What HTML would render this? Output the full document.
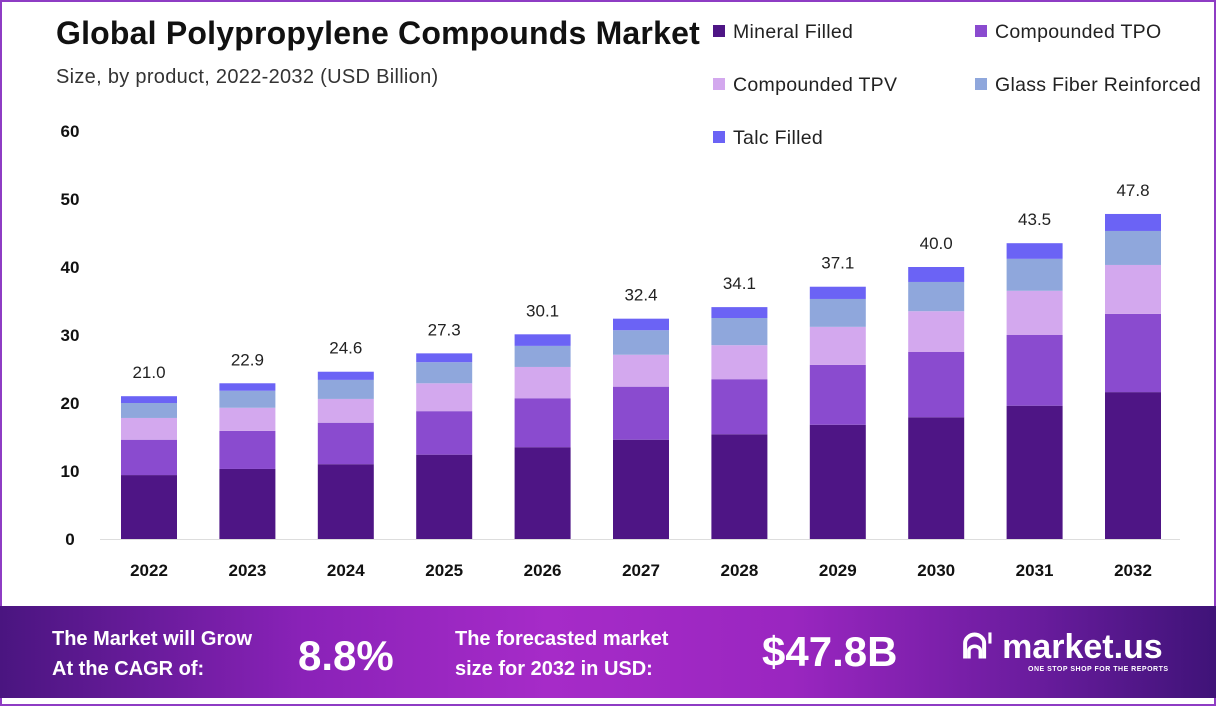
<!DOCTYPE html>
<html><head><meta charset="utf-8"><style>
body{margin:0;width:1216px;height:706px;overflow:hidden;background:#fff;font-family:"Liberation Sans",sans-serif;}
#frame{position:absolute;left:0;top:0;width:1212px;height:702px;border:2px solid #8e3cc4;}
.t{position:absolute;white-space:nowrap;}
#footer{position:absolute;left:0;top:606px;width:1216px;height:92px;background:linear-gradient(90deg,#4a1580 0%,#8a22b8 25%,#a62bc8 45%,#9a26c0 65%,#6a1c9e 85%,#3f1378 100%);}
.ft{color:#fff;font-weight:bold;position:absolute;}
</style></head><body>
<div id="frame"></div>
<div class="t" style="left:56px;top:15px;font-size:32px;font-weight:bold;color:#111;letter-spacing:0.2px;">Global Polypropylene Compounds Market</div>
<div class="t" style="left:56px;top:66px;font-size:20px;color:#333;letter-spacing:0.3px;">Size, by product, 2022-2032 (USD Billion)</div>
<svg id="chart" width="1216" height="706" style="position:absolute;left:0;top:0"></svg>
<div id="footer">
<div class="ft" style="left:52px;top:18px;font-size:20px;line-height:30px;">The Market will Grow<br>At the CAGR of:</div>
<div class="ft" style="left:298px;top:26px;font-size:42px;">8.8%</div>
<div class="ft" style="left:455px;top:18px;font-size:20px;line-height:30px;">The forecasted market<br>size for 2032 in USD:</div>
<div class="ft" style="left:762px;top:22px;font-size:42px;">$47.8B</div>
<div class="ft" style="left:962px;top:22px;font-size:34px;">ᕱᑊ market.us</div>
<div class="ft" style="left:1028px;top:60px;font-size:7px;letter-spacing:0.5px;">ONE STOP SHOP FOR THE REPORTS</div>
</div>
<script>
const years=['2022','2023','2024','2025','2026','2027','2028','2029','2030','2031','2032'];
const mineral=[9.4,10.3,11.0,12.4,13.5,14.6,15.4,16.8,17.9,19.6,21.6];
const tpo=[5.2,5.6,6.1,6.4,7.2,7.8,8.1,8.8,9.6,10.4,11.5];
const tpv=[3.2,3.4,3.5,4.1,4.6,4.7,5.0,5.6,6.0,6.5,7.2];
const glass=[2.2,2.5,2.8,3.1,3.1,3.6,4.0,4.1,4.3,4.7,5.0];
const talc=[1.0,1.1,1.2,1.3,1.7,1.7,1.6,1.8,2.2,2.3,2.5];
const totals=['21.0','22.9','24.6','27.3','30.1','32.4','34.1','37.1','40.0','43.5','47.8'];
const yTicks=[0,10,20,30,40,50,60];
const seriesNames=['Mineral Filled','Compounded TPO','Compounded TPV','Glass Fiber Reinforced','Talc Filled'];
const colors=['#4e1585','#8a4bcf','#d3a8ee','#8fa7dc','#6b63f5'];
const svg=document.getElementById('chart');const NS='http://www.w3.org/2000/svg';
const y=v=>539-v*6.8;const x=i=>149+i*98.4;const bw=56;
function mk(t,a){const e=document.createElementNS(NS,t);for(const k in a)e.setAttribute(k,a[k]);svg.appendChild(e);return e;}
const ax=mk('line',{x1:100,x2:1180,y1:539.5,y2:539.5,stroke:'#ddd','stroke-width':1});


yTicks.forEach(v=>{const t=mk('text',{x:70,y:y(v)+6,'text-anchor':'middle','font-size':17,'font-weight':'bold',fill:'#111','font-family':'Liberation Sans'});t.textContent=v;

});
const series=[mineral,tpo,tpv,glass,talc];const keys=['mineral','tpo','tpv','glass','talc'];
years.forEach((yr,i)=>{let base=0;
series.forEach((s,k)=>{const r=mk('rect',{x:x(i)-bw/2,y:y(base+s[i]),width:bw,height:s[i]*6.8,fill:colors[k]});


base+=s[i];});
const lt=mk('text',{x:x(i),y:y(base)-18,'text-anchor':'middle','font-size':17,fill:'#222','font-family':'Liberation Sans'});lt.textContent=totals[i];


const xt=mk('text',{x:x(i),y:576,'text-anchor':'middle','font-size':17,'font-weight':'bold',fill:'#111','font-family':'Liberation Sans'});xt.textContent=yr;

});
const lpos=[[713,32],[975,32],[713,85],[975,85],[713,138]];
seriesNames.forEach((n,k)=>{const r=mk('rect',{x:lpos[k][0],y:lpos[k][1]-7,width:12,height:12,fill:colors[k]});


const t=mk('text',{x:lpos[k][0]+20,y:lpos[k][1]+6,'font-size':19.5,fill:'#222','font-family':'Liberation Sans','letter-spacing':0.3});t.textContent=n;

});
</script>
</body></html>
